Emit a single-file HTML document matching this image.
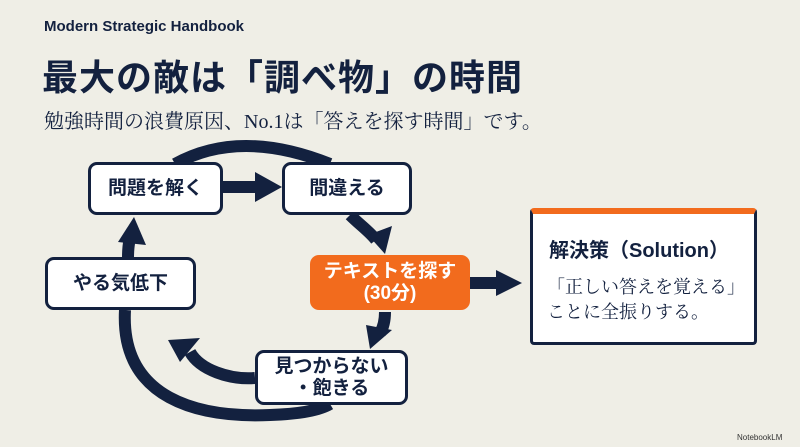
<!DOCTYPE html>
<html><head><meta charset="utf-8"><style>
body{margin:0;width:800px;height:447px;background:#efeee6;overflow:hidden;position:relative;font-family:"Liberation Sans","Noto Sans CJK JP",sans-serif;color:#13213f}
.a{position:absolute}
.box{position:absolute;background:#fff;border:3px solid #13213f;border-radius:9px;box-sizing:border-box;display:flex;align-items:center;justify-content:center;text-align:center;font-weight:bold;font-size:19px;line-height:22px}
</style></head><body>
<div class="a" style="left:44px;top:18px;font-size:15px;font-weight:bold">Modern Strategic Handbook</div>
<div class="a" style="left:42px;top:49px;font-size:36px;font-weight:bold;letter-spacing:1px">最大の敵は「調べ物」の時間</div>
<div class="a" style="left:44px;top:105px;font-size:20px;font-family:'Liberation Serif','Noto Serif CJK SC',serif">勉強時間の浪費原因、No.1は「答えを探す時間」です。</div>
<svg class="a" style="left:0;top:0" width="800" height="447">
<g fill="none" stroke="#13213f" stroke-width="12">
<path d="M175 164 Q240 128 330 164"/>
<path d="M125 310 C120 400 200 418 270 415 C300 414 320 410 330 404"/>
<path d="M255 378 C230 380 200 370 190 352"/>
<path d="M128 258 C128 245 130 235 133 232"/>
<path d="M350 215 C360 225 370 232 376 240"/>
<path d="M385 312 C385 320 383 328 380 333"/>
<line x1="223" y1="187" x2="260" y2="187"/>
<line x1="470" y1="283" x2="498" y2="283"/>
</g>
<g fill="#13213f">
<polygon points="255,172 282,187 255,202"/>
<polygon points="496,270 522,283 496,296"/>
<polygon points="134,217 118,242 146,245"/>
<polygon points="385,254 368,235 392,226"/>
<polygon points="370,349 366,325 392,330"/>
<polygon points="168,340 200,338 180,362"/>
</g>
</svg>
<div class="box" style="left:88px;top:162px;width:135px;height:53px">問題を解く</div>
<div class="box" style="left:282px;top:162px;width:130px;height:53px">間違える</div>
<div class="box" style="left:45px;top:257px;width:151px;height:53px">やる気低下</div>
<div class="box" style="left:310px;top:255px;width:160px;height:55px;background:#f26b1d;border:none;color:#fff">テキストを探す<br>(30分)</div>
<div class="box" style="left:255px;top:350px;width:153px;height:55px">見つからない<br>・飽きる</div>
<div class="a" style="left:530px;top:208px;width:227px;height:137px;background:#fff;border:3px solid #13213f;border-top:6px solid #f26b1d;border-radius:4px;box-sizing:border-box">
<div style="position:absolute;left:16px;top:20px;font-size:20px;font-weight:bold">解決策（Solution）</div>
<div style="position:absolute;left:14px;top:61px;font-size:18px;line-height:25px;font-family:'Liberation Serif','Noto Serif CJK SC',serif">「正しい答えを覚える」<br>ことに全振りする。</div>
</div>
<div class="a" style="left:737px;top:433px;font-size:8px;color:#333">NotebookLM</div>
</body></html>
